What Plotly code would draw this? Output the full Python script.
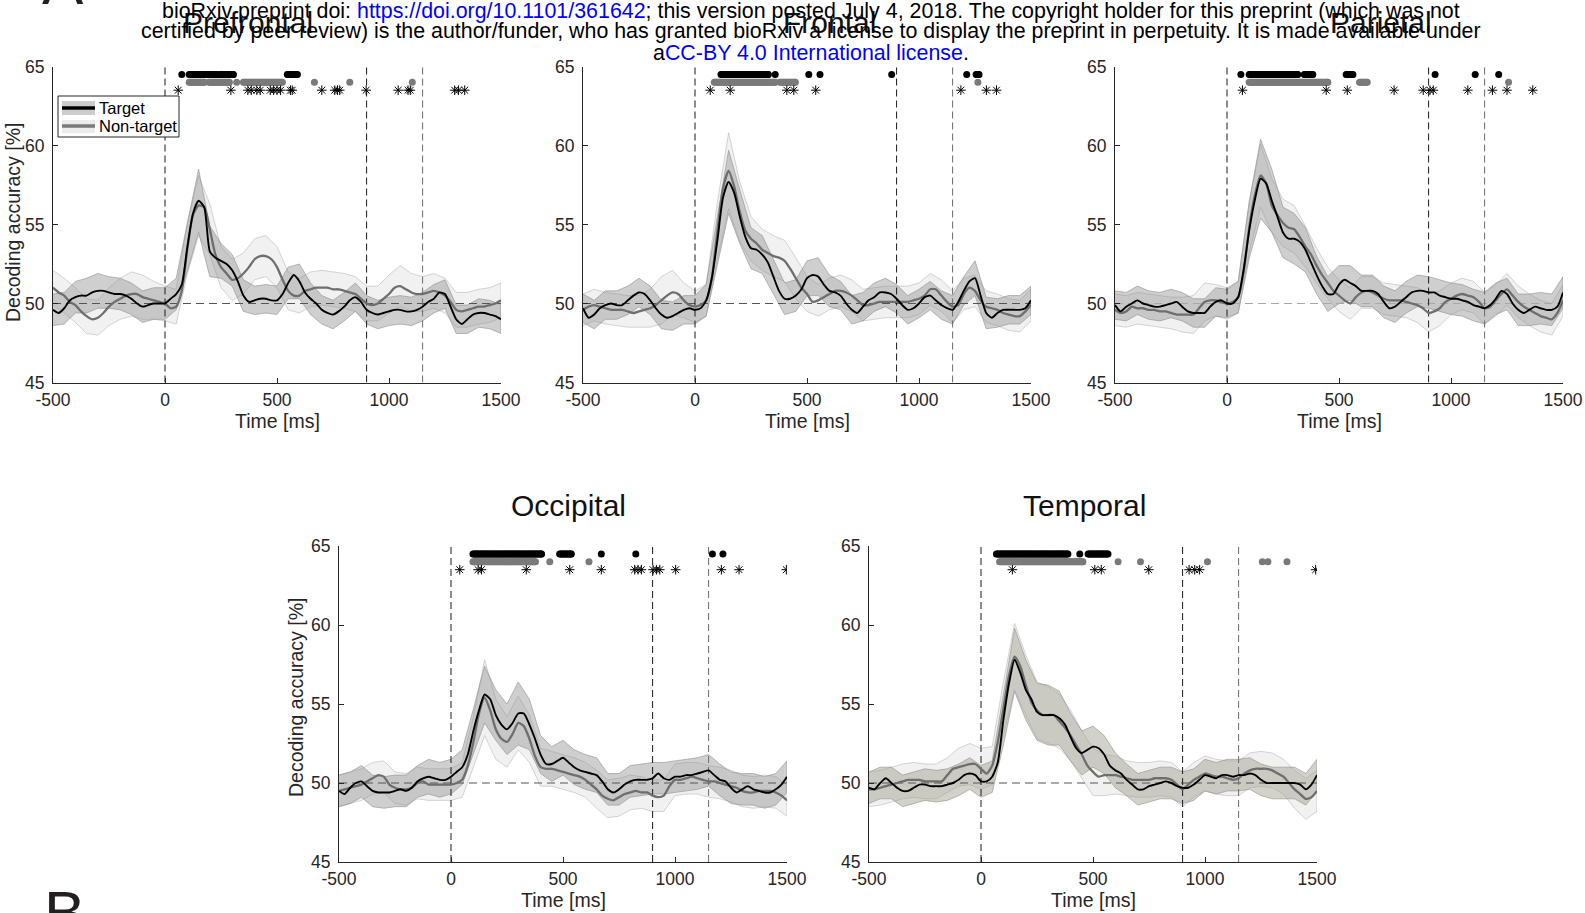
import numpy as np
import plotly.graph_objects as go

W, H = 1585, 913
FONT = "Liberation Sans, Arial, Helvetica, sans-serif"
INK = "#262626"

# ---------------- data ----------------
T = list(range(-500, 1501, 25))     # time axis of the mean curves [ms]
T50 = list(range(-500, 1501, 50))   # time axis of the error bands [ms]
EVENTS = [0, 900, 1150]
CHANCE = 50
XTICKS = [-500, 0, 500, 1000, 1500]
XTICKLABELS = ["-500", "0", "500", "1000", "1500"]
YTICKS = [45, 50, 55, 60, 65]
TITLES = ["Prefrontal", "Frontal", "Parietal", "Occipital", "Temporal"]

pref_tgt = [49.6, 49.4, 49.7, 50.2, 50.4, 50.5, 50.5, 50.7, 50.8,
            50.8, 50.7, 50.6, 50.6, 50.5, 50.3, 50.0, 49.8, 49.9,
            50.0, 50.0, 50.0, 50.3, 50.6, 51.2, 53.6, 55.7, 56.5,
            56.1, 53.3, 52.9, 52.7, 52.5, 52.1, 51.4, 50.5, 50.1,
            50.2, 50.3, 50.3, 50.2, 50.2, 50.6, 51.3, 51.8, 51.4,
            50.7, 50.3, 50.0, 49.6, 49.4, 49.3, 49.5, 49.8, 50.2,
            50.4, 50.1, 49.6, 49.4, 49.3, 49.4, 49.5, 49.6, 49.6,
            49.5, 49.5, 49.6, 49.8, 50.1, 50.3, 50.7, 50.6, 49.8,
            49.0, 48.7, 49.0, 49.3, 49.4, 49.4, 49.3, 49.2, 49.0]
pref_ntg = [51.0, 50.7, 50.5, 50.1, 49.9, 49.5, 49.2, 49.0, 49.1,
            49.4, 49.8, 50.1, 50.3, 50.5, 50.6, 50.6, 50.4, 50.3,
            50.2, 50.1, 50.0, 49.7, 49.8, 50.8, 53.5, 55.6, 56.2,
            56.1, 54.7, 53.1, 52.3, 51.9, 51.5, 51.6, 51.9, 52.3,
            52.8, 53.0, 53.0, 52.8, 52.3, 51.5, 50.8, 50.5, 50.5,
            50.8, 50.9, 51.0, 51.0, 51.0, 50.9, 50.9, 50.8, 50.7,
            50.6, 50.3, 50.0, 49.9, 50.0, 50.3, 50.6, 51.0, 51.1,
            50.9, 50.7, 50.6, 50.6, 50.7, 50.8, 50.7, 50.5, 50.1,
            49.6, 49.5, 49.6, 49.7, 49.8, 49.8, 49.9, 50.0, 50.2]
pref_tgt_se = [1.0, 1.0, 1.0, 1.1, 1.1, 1.0, 1.0, 1.0, 1.0, 1.0,
               1.0, 1.0, 1.5, 2.0, 1.6, 1.1, 1.0, 1.0, 0.9, 0.9,
               0.9, 1.0, 1.1, 1.0, 0.9, 0.9, 0.9, 0.9, 0.9, 0.9,
               0.9, 0.9, 0.9, 0.9, 0.9, 0.9, 0.9, 0.9, 0.9, 0.9, 0.9]
pref_ntg_se = [1.1, 1.1, 1.1, 1.1, 1.1, 1.2, 1.3, 1.4, 1.4, 1.2,
               1.1, 1.1, 1.6, 1.9, 1.6, 1.3, 1.3, 1.3, 1.3, 1.3,
               1.3, 1.2, 1.1, 1.1, 1.1, 1.1, 1.1, 1.1, 1.1, 1.1,
               1.2, 1.3, 1.2, 1.1, 1.1, 1.1, 1.1, 1.1, 1.1, 1.1, 1.1]
pref_sig_tgt = [[75, 75], [108, 229], [244, 305], [546, 591]]
pref_sig_ntg = [[108, 176], [196, 287], [320, 320], [350, 524], [667, 667], [825, 825], [1104, 1104]]
pref_sig_diff = [59, 294, 370, 385, 410, 425, 470, 485, 500, 516, 560, 568, 700, 758, 770, 780,
                 898, 1041, 1085, 1095, 1293, 1310, 1338]

front_tgt = [49.7, 49.1, 49.3, 49.7, 49.9, 50.0, 49.9, 49.9, 50.2,
             50.5, 50.7, 50.6, 50.2, 49.7, 49.3, 49.1, 49.2, 49.4,
             49.6, 49.7, 49.6, 49.7, 50.2, 51.6, 54.0, 56.7, 57.7,
             57.0, 55.5, 54.2, 53.5, 53.4, 53.1, 52.6, 51.7, 50.8,
             50.3, 50.3, 50.5, 50.9, 51.6, 51.8, 51.7, 51.2, 50.8,
             50.7, 50.5, 50.0, 49.6, 49.4, 49.8, 50.2, 50.4, 50.7,
             50.7, 50.6, 50.3, 49.9, 49.6, 49.7, 50.0, 50.4, 50.5,
             50.2, 49.9, 49.7, 49.6, 50.1, 50.8, 51.4, 51.6, 50.5,
             49.4, 49.1, 49.4, 49.6, 49.6, 49.6, 49.6, 49.7, 50.2]
front_ntg = [49.6, 49.8, 49.9, 49.8, 49.7, 49.6, 49.6, 49.6, 49.5,
             49.4, 49.5, 49.6, 49.7, 49.9, 50.2, 50.5, 50.7, 50.6,
             50.2, 49.9, 49.8, 49.9, 50.2, 51.6, 54.6, 57.3, 58.4,
             57.4, 55.8, 54.6, 54.1, 53.8, 53.4, 53.2, 53.0, 52.9,
             52.7, 52.2, 51.6, 51.0, 50.6, 50.1, 50.2, 50.4, 50.6,
             50.8, 50.8, 50.7, 50.5, 50.2, 49.9, 49.9, 50.0, 50.1,
             50.1, 50.1, 50.1, 50.1, 50.1, 50.2, 50.3, 50.5, 50.9,
             50.9, 50.5, 50.1, 49.8, 49.9, 50.6, 51.0, 50.8, 50.2,
             49.8, 49.7, 49.6, 49.4, 49.3, 49.2, 49.2, 49.5, 49.9]
front_tgt_se = [0.9, 0.9, 0.9, 0.9, 0.9, 0.9, 0.9, 0.9, 0.9, 0.9,
                0.9, 1.0, 1.5, 2.0, 1.7, 1.3, 1.2, 1.1, 1.0, 1.0,
                1.1, 1.2, 1.0, 0.9, 0.9, 0.9, 0.9, 0.9, 0.9, 0.9,
                0.9, 0.9, 0.9, 0.9, 0.9, 1.1, 1.0, 0.9, 0.9, 0.9, 0.9]
front_ntg_se = [1.0, 1.0, 1.0, 1.0, 1.0, 1.0, 1.2, 1.5, 1.4, 1.1,
                1.0, 1.0, 1.8, 2.4, 1.9, 1.4, 1.3, 1.3, 1.3, 1.3,
                1.1, 1.0, 1.0, 1.0, 1.0, 1.0, 1.0, 1.0, 1.0, 1.0,
                1.0, 1.0, 1.0, 1.0, 1.0, 1.0, 1.0, 1.0, 1.0, 1.0, 1.0]
front_sig_tgt = [[116, 327], [358, 358], [508, 508], [558, 558], [878, 878], [1213, 1213], [1255, 1268]]
front_sig_ntg = [[86, 358], [380, 448], [1263, 1263]]
front_sig_diff = [68, 157, 410, 441, 539, 1187, 1301, 1346]

par_tgt = [49.9, 49.5, 49.8, 50.0, 50.2, 50.0, 49.9, 49.8, 49.8,
           49.9, 50.0, 50.1, 49.8, 49.5, 49.4, 49.4, 49.4, 49.8,
           50.1, 50.2, 50.0, 50.0, 50.4, 52.2, 54.7, 56.6, 57.9,
           57.6, 56.5, 55.5, 54.5, 54.1, 54.1, 53.9, 53.4, 52.6,
           51.8, 51.1, 50.6, 50.6, 51.2, 51.5, 51.3, 51.1, 50.8,
           50.8, 50.8, 50.6, 50.1, 49.7, 49.8, 50.1, 50.4, 50.7,
           50.8, 50.8, 50.7, 50.7, 50.5, 50.4, 50.3, 50.3, 50.2,
           50.1, 49.9, 49.8, 49.7, 49.9, 50.3, 50.8, 50.6, 50.0,
           49.6, 49.4, 49.6, 49.8, 49.7, 49.6, 49.6, 49.8, 50.7]
par_ntg = [49.6, 49.4, 49.5, 49.8, 49.7, 49.7, 49.6, 49.6, 49.5,
           49.5, 49.4, 49.3, 49.3, 49.3, 49.3, 49.7, 50.1, 50.2,
           50.2, 50.1, 50.0, 50.1, 50.4, 52.1, 54.9, 56.9, 58.1,
           57.6, 56.2, 55.6, 55.1, 54.8, 54.7, 54.2, 53.6, 53.1,
           52.4, 51.8, 51.3, 50.8, 50.5, 50.2, 50.0, 50.4, 50.7,
           50.8, 50.7, 50.5, 50.3, 50.2, 50.2, 50.2, 50.1, 50.0,
           49.9, 49.7, 49.4, 49.5, 49.7, 50.1, 50.3, 50.5, 50.6,
           50.5, 50.4, 50.1, 49.7, 49.8, 50.2, 50.6, 50.9, 50.5,
           50.1, 49.8, 49.6, 49.4, 49.2, 49.1, 49.0, 49.4, 50.2]
par_tgt_se = [0.9, 0.9, 0.9, 0.9, 0.9, 0.9, 0.9, 0.9, 0.9, 0.9,
              0.9, 1.0, 1.8, 2.5, 2.0, 1.6, 1.6, 1.4, 1.2, 1.1,
              1.2, 1.1, 1.0, 1.0, 1.0, 1.0, 1.0, 1.0, 1.0, 1.0,
              1.0, 1.0, 1.0, 1.0, 1.0, 1.0, 1.0, 1.0, 1.0, 1.0, 1.0]
par_ntg_se = [1.0, 1.0, 1.0, 1.0, 1.0, 1.0, 1.1, 1.2, 1.2, 1.0,
              1.0, 1.0, 1.6, 2.0, 1.7, 1.5, 1.5, 1.3, 1.1, 1.0,
              1.0, 1.0, 1.0, 1.0, 1.0, 1.0, 1.0, 1.1, 1.2, 1.1,
              1.0, 1.0, 1.0, 1.0, 1.0, 1.0, 1.0, 1.0, 1.0, 1.0, 1.0]
par_sig_tgt = [[62, 62], [99, 316], [345, 383], [532, 562], [929, 929], [1108, 1108], [1213, 1213]]
par_sig_ntg = [[99, 450], [592, 626], [1257, 1257]]
par_sig_diff = [69, 443, 537, 746, 876, 906, 921, 1075, 1185, 1250, 1365]

occ_tgt = [49.5, 49.3, 49.7, 50.0, 50.1, 49.8, 49.5, 49.4, 49.4,
           49.4, 49.5, 49.6, 49.5, 49.7, 50.1, 50.3, 50.4, 50.3,
           50.2, 50.2, 50.4, 50.7, 51.0, 51.8, 53.3, 54.6, 55.6,
           55.3, 54.3, 53.7, 53.4, 53.8, 54.4, 54.4, 53.7, 52.8,
           51.8, 51.2, 51.2, 51.4, 51.6, 51.3, 51.0, 50.8, 50.7,
           50.6, 50.5, 50.1, 49.6, 49.4, 49.6, 49.9, 50.1, 50.2,
           50.2, 50.2, 50.3, 50.6, 50.3, 50.2, 50.4, 50.4, 50.5,
           50.5, 50.6, 50.7, 50.8, 50.5, 50.2, 50.1, 49.7, 49.4,
           49.6, 49.8, 49.6, 49.5, 49.4, 49.4, 49.6, 49.9, 50.4]
occ_ntg = [49.5, 49.6, 49.7, 49.8, 49.9, 50.1, 50.3, 50.5, 50.4,
           49.9, 49.7, 49.6, 49.6, 49.7, 50.0, 50.1, 49.9, 49.9,
           49.9, 49.9, 49.9, 50.0, 50.2, 51.1, 52.6, 54.4, 55.4,
           54.6, 53.4, 52.8, 52.6, 53.1, 53.8, 53.6, 52.8, 51.7,
           51.0, 50.9, 50.9, 50.8, 50.7, 50.6, 50.5, 50.4, 50.2,
           49.9, 49.6, 49.2, 49.0, 48.9, 49.1, 49.3, 49.4, 49.5,
           49.4, 49.4, 49.2, 49.1, 49.2, 49.8, 50.2, 50.2, 50.3,
           50.4, 50.3, 50.2, 50.1, 50.1, 50.0, 49.9, 49.8, 49.7,
           49.5, 49.4, 49.4, 49.5, 49.5, 49.5, 49.4, 49.2, 48.9]
occ_tgt_se = [1.0, 1.0, 1.0, 1.0, 1.0, 1.0, 1.0, 1.0, 1.1, 1.1,
              1.1, 1.1, 1.4, 1.8, 1.6, 1.6, 2.0, 1.6, 1.2, 1.1,
              1.1, 1.1, 1.1, 1.1, 1.0, 1.0, 1.0, 1.0, 1.0, 1.0,
              1.0, 1.0, 1.0, 1.0, 1.0, 1.0, 1.0, 1.0, 1.0, 1.0, 1.0]
occ_ntg_se = [1.0, 1.0, 1.0, 1.0, 1.0, 1.0, 1.0, 1.0, 1.0, 1.0,
              1.0, 1.1, 1.6, 2.4, 1.9, 1.6, 1.7, 1.5, 1.2, 1.1,
              1.1, 1.1, 1.1, 1.2, 1.2, 1.2, 1.1, 1.0, 1.0, 1.0,
              1.0, 1.0, 1.0, 1.0, 1.0, 1.0, 1.0, 1.0, 1.0, 1.0, 1.0]
occ_sig_tgt = [[98, 404], [485, 537], [671, 671], [825, 825], [1167, 1167], [1214, 1214]]
occ_sig_ntg = [[98, 377], [441, 441], [616, 616]]
occ_sig_diff = [39, 121, 136, 336, 530, 671, 820, 835, 850, 902, 917, 932, 1003, 1207, 1286, 1497]

temp_tgt = [49.7, 49.6, 50.0, 50.3, 50.0, 49.7, 49.5, 49.5, 49.7,
            49.9, 49.9, 49.8, 49.8, 49.8, 49.9, 50.0, 50.2, 50.5,
            50.6, 50.5, 50.1, 50.1, 50.4, 51.3, 54.0, 56.3, 57.8,
            57.0, 55.9, 55.3, 54.5, 54.3, 54.3, 54.3, 54.1, 53.7,
            52.9, 52.2, 51.9, 52.1, 52.3, 52.2, 51.8, 51.1, 50.8,
            50.6, 50.2, 49.9, 49.6, 49.6, 49.8, 49.9, 50.0, 50.1,
            50.0, 49.8, 49.7, 49.7, 49.9, 50.2, 50.5, 50.4, 50.3,
            50.5, 50.5, 50.4, 50.5, 50.5, 50.6, 50.5, 50.2, 50.0,
            50.0, 50.0, 50.0, 50.0, 50.0, 49.9, 49.6, 49.9, 50.5]
temp_ntg = [49.6, 49.6, 49.7, 49.8, 49.9, 50.0, 50.1, 50.2, 50.2,
            50.2, 50.1, 50.1, 50.1, 50.1, 50.5, 50.9, 51.0, 51.1,
            51.2, 51.2, 50.9, 50.6, 51.1, 52.6, 54.7, 56.8, 58.0,
            57.4, 56.2, 55.1, 54.6, 54.3, 54.3, 54.3, 53.9, 53.5,
            53.0, 52.4, 51.8, 51.1, 50.7, 50.4, 50.5, 50.5, 50.5,
            50.4, 50.3, 50.2, 50.2, 50.2, 50.2, 50.3, 50.3, 50.3,
            50.2, 49.9, 49.6, 49.9, 50.2, 50.4, 50.6, 50.5, 50.4,
            50.4, 50.3, 50.2, 50.3, 50.6, 50.8, 50.9, 50.9, 50.9,
            50.8, 50.6, 50.4, 50.0, 49.6, 49.3, 49.0, 49.1, 49.5]
temp_tgt_se = [1.0, 1.0, 1.0, 1.0, 1.0, 1.0, 1.0, 1.0, 1.0, 1.0,
               1.0, 1.0, 1.6, 2.0, 1.9, 1.8, 1.9, 1.7, 1.5, 1.4,
               1.3, 1.2, 1.1, 1.0, 1.0, 1.0, 1.0, 1.0, 1.0, 1.0,
               1.0, 1.0, 1.0, 1.0, 1.0, 1.0, 1.0, 1.0, 1.0, 1.0, 1.0]
temp_ntg_se = [1.1, 1.1, 1.1, 1.1, 1.1, 1.1, 1.1, 1.1, 1.2, 1.3,
               1.3, 1.2, 1.7, 2.1, 1.9, 1.8, 1.8, 1.7, 1.6, 1.5,
               1.5, 1.3, 1.2, 1.1, 1.1, 1.1, 1.1, 1.1, 1.1, 1.1,
               1.1, 1.1, 1.1, 1.1, 1.1, 1.1, 1.1, 1.1, 1.2, 1.3, 1.3]
temp_sig_tgt = [[69, 388], [441, 441], [478, 567]]
temp_sig_ntg = [[83, 455], [612, 612], [712, 712], [1011, 1011], [1256, 1256], [1281, 1281], [1366, 1366]]
temp_sig_diff = [140, 508, 537, 749, 929, 954, 976, 1494]

PANELS = [
    (pref_tgt, pref_ntg, pref_tgt_se, pref_ntg_se, pref_sig_tgt, pref_sig_ntg, pref_sig_diff),
    (front_tgt, front_ntg, front_tgt_se, front_ntg_se, front_sig_tgt, front_sig_ntg, front_sig_diff),
    (par_tgt, par_ntg, par_tgt_se, par_ntg_se, par_sig_tgt, par_sig_ntg, par_sig_diff),
    (occ_tgt, occ_ntg, occ_tgt_se, occ_ntg_se, occ_sig_tgt, occ_sig_ntg, occ_sig_diff),
    (temp_tgt, temp_ntg, temp_tgt_se, temp_ntg_se, temp_sig_tgt, temp_sig_ntg, temp_sig_diff),
]

# ---------------- layout geometry (pixels) ----------------
BOXES = [  # x0, x1, ytop, ybottom
    (53, 501, 66.5, 382.5),
    (583, 1031, 66.5, 382.5),
    (1115, 1563, 66.5, 382.5),
    (339, 787, 546, 862),
    (869, 1317, 546, 862),
]
TITLE_POS = [(248, 22.5), (829, 22.5), (1381, 22.5), (568, 505.6), (1084, 505.6)]
TGT_FILL = ["rgba(140,140,140,0.42)"] * 4 + ["rgba(160,157,140,0.46)"]
CHANCE_COLOR = ["#555555", "#555555", "#a8a8a8", "#555555", "#555555"]
EVENT_COLOR = ["#1a1a1a", "#1a1a1a", "#6a6a6a"]
ROW_TGT, ROW_NTG, ROW_DIFF = 64.5, 64.0, 63.5


def pxx(x):
    return x / W


def pyy(y):
    return 1 - y / H


def expand(runs):
    out = []
    for s, e in runs:
        pts = list(np.arange(s, e, 5)) + [e]
        out.extend(pts)
    return out


fig = go.Figure()
t50 = np.array(T50)
for i, (tgt, ntg, tse, nse, stgt, sntg, sdiff) in enumerate(PANELS):
    xa = "x" if i == 0 else f"x{i+1}"
    ya = "y" if i == 0 else f"y{i+1}"
    tgt = np.array(tgt)
    ntg = np.array(ntg)
    tm = tgt[::2]
    nm = ntg[::2]
    for mean, se, fill, edge in [(nm, np.array(nse), "rgba(205,205,205,0.28)", "#b9b9b9"),
                                 (tm, np.array(tse), TGT_FILL[i], "#8f8f8f")]:
        up = mean + se
        lo = mean - se
        fig.add_trace(go.Scatter(x=np.concatenate([t50, t50[::-1]]), y=np.concatenate([up, lo[::-1]]),
                                 fill="toself", fillcolor=fill, mode="lines",
                                 line=dict(color=edge, width=0.6), xaxis=xa, yaxis=ya,
                                 hoverinfo="skip"))
    fig.add_trace(go.Scatter(x=[XTICKS[0], XTICKS[-1]], y=[CHANCE, CHANCE], mode="lines",
                             line=dict(color=CHANCE_COLOR[i], width=1, dash="8px,5px"),
                             xaxis=xa, yaxis=ya))
    for ev, col in zip(EVENTS, EVENT_COLOR):
        fig.add_trace(go.Scatter(x=[ev, ev], y=[YTICKS[0], YTICKS[-1]], mode="lines",
                                 line=dict(color=col, width=1, dash="7px,4px"),
                                 xaxis=xa, yaxis=ya))
    fig.add_trace(go.Scatter(x=T, y=ntg, mode="lines",
                             line=dict(color="#6e6e6e", width=2.3, shape="spline", smoothing=0.6),
                             xaxis=xa, yaxis=ya))
    fig.add_trace(go.Scatter(x=T, y=tgt, mode="lines",
                             line=dict(color="#000000", width=1.9, shape="spline", smoothing=0.6),
                             xaxis=xa, yaxis=ya))
    xs = expand(stgt)
    fig.add_trace(go.Scatter(x=xs, y=[ROW_TGT] * len(xs), mode="markers",
                             marker=dict(size=7, color="#000000"), xaxis=xa, yaxis=ya))
    xs = expand(sntg)
    fig.add_trace(go.Scatter(x=xs, y=[ROW_NTG] * len(xs), mode="markers",
                             marker=dict(size=7, color="#7a7a7a"), xaxis=xa, yaxis=ya))
    fig.add_trace(go.Scatter(x=sdiff, y=[ROW_DIFF] * len(sdiff), mode="markers",
                             marker=dict(size=8, symbol="asterisk-open", color="#000000",
                                         line=dict(color="#000000", width=1)),
                             xaxis=xa, yaxis=ya))

layout = dict(width=W, height=H, margin=dict(l=0, r=0, t=0, b=0, autoexpand=False), showlegend=False,
              plot_bgcolor="white", paper_bgcolor="white",
              font=dict(family=FONT, color=INK))
for i, (x0, x1, yt, yb) in enumerate(BOXES):
    kx = "xaxis" if i == 0 else f"xaxis{i+1}"
    ky = "yaxis" if i == 0 else f"yaxis{i+1}"
    ya = "y" if i == 0 else f"y{i+1}"
    xa = "x" if i == 0 else f"x{i+1}"
    common = dict(ticks="inside", ticklen=5, tickcolor=INK, tickwidth=1, showline=True,
                  linecolor=INK, linewidth=1, showgrid=False, zeroline=False, automargin=False,
                  tickfont=dict(size=17.5, color=INK, family=FONT))
    layout[kx] = dict(domain=[pxx(x0), pxx(x1)], range=[XTICKS[0], XTICKS[-1]], tickvals=XTICKS,
                      ticktext=XTICKLABELS, anchor=ya, ticklabelstandoff=1, **common)
    layout[ky] = dict(domain=[pyy(yb), pyy(yt)], range=[YTICKS[0], YTICKS[-1]], tickvals=YTICKS,
                      ticktext=[str(v) for v in YTICKS], anchor=xa, ticklabelstandoff=4, **common)
fig.update_layout(**layout)

ann = []
for (x0, x1, yt, yb), title, (tx, ty) in zip(BOXES, TITLES, TITLE_POS):
    ann.append(dict(x=pxx(tx), y=pyy(ty), xref="paper", yref="paper", text=title,
                    showarrow=False, xanchor="center", yanchor="middle",
                    font=dict(size=30, color="#111111", family=FONT)))
    ann.append(dict(x=pxx((x0 + x1) / 2), y=pyy(yb + 38), xref="paper", yref="paper",
                    text="Time [ms]", showarrow=False, xanchor="center", yanchor="middle",
                    font=dict(size=19.5, color=INK, family=FONT)))
for xc, yc in [(13, 223), (296, 698)]:
    ann.append(dict(x=pxx(xc), y=pyy(yc), xref="paper", yref="paper", text="Decoding accuracy [%]",
                    textangle=-90, showarrow=False, xanchor="center", yanchor="middle",
                    font=dict(size=19.5, color=INK, family=FONT)))

BLUE = "#0000ff"
header = [
    (11.3, "bioRxiv preprint doi: <span style='color:%s'>https://doi.org/10.1101/361642</span>; this version posted July 4, 2018. The copyright holder for this preprint (which was not" % BLUE),
    (31.5, "certified by peer review) is the author/funder, who has granted bioRxiv a license to display the preprint in perpetuity. It is made available under"),
    (52.8, "a<span style='color:%s'>CC-BY 4.0 International license</span>." % BLUE),
]
for yy, txt in header:
    ann.append(dict(x=pxx(811), y=pyy(yy), xref="paper", yref="paper", text=txt, showarrow=False,
                    xanchor="center", yanchor="middle", font=dict(size=21.4, color="#000000", family=FONT)))

ann.append(dict(x=pxx(40), y=pyy(19), xref="paper", yref="paper", text="A", showarrow=False,
                xanchor="left", yanchor="bottom", font=dict(size=62, color="#231f20", family=FONT)))
ann.append(dict(x=pxx(42), y=pyy(876), xref="paper", yref="paper", text="B", showarrow=False,
                xanchor="left", yanchor="top", font=dict(size=62, color="#231f20", family=FONT)))

shapes = [
    dict(type="rect", xref="paper", yref="paper", x0=pxx(58), x1=pxx(179), y0=pyy(137), y1=pyy(96),
         line=dict(color=INK, width=1), fillcolor="white"),
    dict(type="rect", xref="paper", yref="paper", x0=pxx(62), x1=pxx(95), y0=pyy(115), y1=pyy(101),
         line=dict(width=0), fillcolor="#cdcdcd"),
    dict(type="line", xref="paper", yref="paper", x0=pxx(62), x1=pxx(95), y0=pyy(108), y1=pyy(108),
         line=dict(color="#000000", width=3.5)),
    dict(type="rect", xref="paper", yref="paper", x0=pxx(62), x1=pxx(95), y0=pyy(133), y1=pyy(120),
         line=dict(width=0), fillcolor="#ebebeb"),
    dict(type="line", xref="paper", yref="paper", x0=pxx(62), x1=pxx(95), y0=pyy(126), y1=pyy(126),
         line=dict(color="#7a7a7a", width=3.5)),
]
for yy, txt in [(108, "Target"), (126, "Non-target")]:
    ann.append(dict(x=pxx(97), y=pyy(yy), xref="paper", yref="paper", text=txt, showarrow=False,
                    xanchor="left", yanchor="middle", font=dict(size=16.5, color="#000000", family=FONT)))

fig.update_layout(annotations=ann, shapes=shapes)
fig.write_html("out.html")
